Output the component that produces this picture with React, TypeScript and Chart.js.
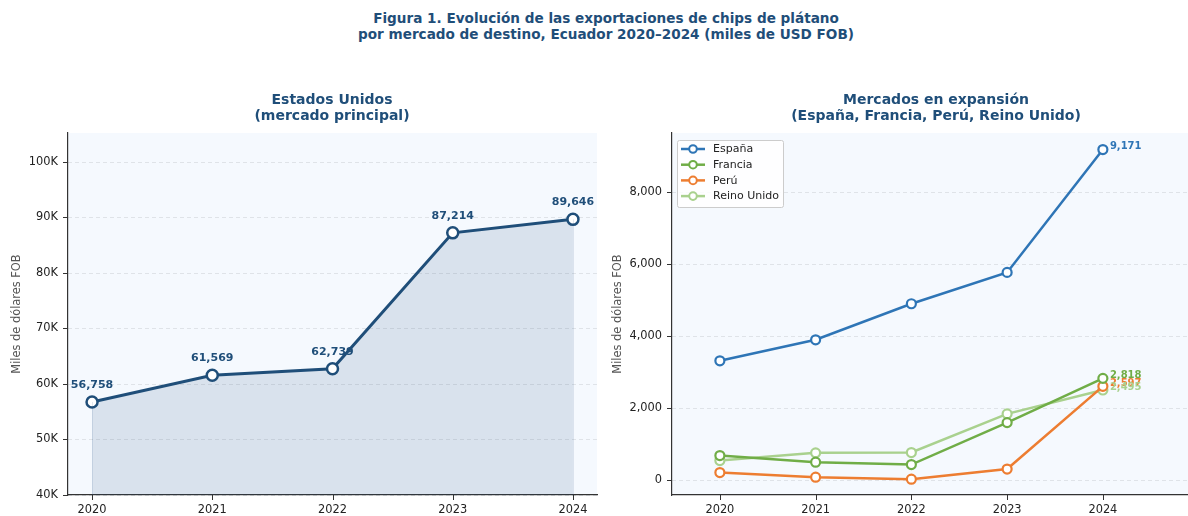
import React, { useEffect, useRef } from 'react';
import { Chart, registerables } from 'chart.js';

Chart.register(...registerables);

const years = [2020, 2021, 2022, 2023, 2024];
const usaValues = [56758, 61569, 62739, 87214, 89646];
const usaTicks = [40000, 50000, 60000, 70000, 80000, 90000, 100000];

const seriesNames = ['España', 'Francia', 'Perú', 'Reino Unido'];
const espanaValues = [3306, 3889, 4889, 5760, 9171];
const franciaValues = [675, 491, 426, 1590, 2818];
const peruValues = [203, 74, 19, 300, 2597];
const reinoUnidoValues = [536, 750, 759, 1833, 2495];
const marketTicks = [0, 2000, 4000, 6000, 8000];

const mainTitle = ['Figura 1. Evolución de las exportaciones de chips de plátano', 'por mercado de destino, Ecuador 2020–2024 (miles de USD FOB)'];
const leftTitle = ['Estados Unidos', '(mercado principal)'];
const rightTitle = ['Mercados en expansión', '(España, Francia, Perú, Reino Unido)'];
const yTitle = 'Miles de dólares FOB';

const NAVY = '#1f4e79';
const seriesColors = ['#2e75b6', '#70ad47', '#ed7d31', '#a9d18e'];
const FONT = "'DejaVu Sans', sans-serif";

const fmt = (v: number) => v.toLocaleString('en-US');

function decorPlugin(opts: { titleLines: string[]; titleCenter: number; yTitleX: number; labels: (chart: any) => void; legend?: boolean }) {
  return {
    id: 'decor',
    beforeDraw(chart: any) {
      const { ctx, chartArea: a } = chart;
      ctx.save();
      ctx.fillStyle = '#f5f9fe';
      ctx.fillRect(a.left, a.top, a.right - a.left, a.bottom - a.top);
      const ys = chart.scales.y;
      ctx.strokeStyle = '#d9dde2';
      ctx.lineWidth = 0.8;
      ctx.setLineDash([4, 3]);
      for (const t of ys.ticks) {
        const py = Math.round(ys.getPixelForValue(t.value)) + 0.5;
        ctx.beginPath();
        ctx.moveTo(a.left, py);
        ctx.lineTo(a.right, py);
        ctx.stroke();
      }
      ctx.restore();
    },
    afterDatasetsDraw(chart: any) {
      opts.labels(chart);
    },
    afterDraw(chart: any) {
      const { ctx, chartArea: a } = chart;
      ctx.save();
      ctx.strokeStyle = '#333';
      ctx.lineWidth = 1;
      const ys = chart.scales.y;
      for (const t of ys.ticks) {
        const py = Math.round(ys.getPixelForValue(t.value)) + 0.5;
        ctx.beginPath();
        ctx.moveTo(a.left - 5, py);
        ctx.lineTo(a.left, py);
        ctx.stroke();
      }
      const xs = chart.scales.x;
      for (const t of xs.ticks) {
        const px = Math.round(xs.getPixelForValue(t.value)) + 0.5;
        ctx.beginPath();
        ctx.moveTo(px, a.bottom);
        ctx.lineTo(px, a.bottom + 5);
        ctx.stroke();
      }
      ctx.fillStyle = NAVY;
      ctx.font = `bold 14px ${FONT}`;
      ctx.textAlign = 'center';
      ctx.textBaseline = 'middle';
      opts.titleLines.forEach((l, i) => ctx.fillText(l, opts.titleCenter, 100 + i * 16));
      ctx.save();
      ctx.translate(opts.yTitleX, (a.top + a.bottom) / 2);
      ctx.rotate(-Math.PI / 2);
      ctx.fillStyle = '#555';
      ctx.font = `11.4px ${FONT}`;
      ctx.fillText(yTitle, 0, 0);
      ctx.restore();
      if (opts.legend) {
        const lx = a.left + 5, ly = a.top + 7, w = 106, h = 67;
        ctx.fillStyle = 'rgba(255,255,255,0.85)';
        ctx.strokeStyle = '#cccccc';
        ctx.lineWidth = 1;
        ctx.beginPath();
        ctx.roundRect(lx + 0.5, ly + 0.5, w, h, 2);
        ctx.fill();
        ctx.stroke();
        seriesNames.forEach((n, i) => {
          const cy = ly + 9 + i * 15.7;
          ctx.strokeStyle = seriesColors[i];
          ctx.lineWidth = 2.5;
          ctx.beginPath();
          ctx.moveTo(lx + 4, cy);
          ctx.lineTo(lx + 28, cy);
          ctx.stroke();
          ctx.beginPath();
          ctx.arc(lx + 16, cy, 3.8, 0, Math.PI * 2);
          ctx.fillStyle = '#fff';
          ctx.fill();
          ctx.lineWidth = 2;
          ctx.stroke();
          ctx.fillStyle = '#222';
          ctx.font = `11px ${FONT}`;
          ctx.textAlign = 'left';
          ctx.textBaseline = 'middle';
          ctx.fillText(n, lx + 36, cy + 0.5);
        });
      }
      ctx.restore();
    },
  };
}

const tickFont = { size: 11.4, family: FONT };

function xAxis(min: number, max: number) {
  return {
    type: 'linear',
    min,
    max,
    grid: { display: false, tickLength: 8 },
    border: { display: true, color: '#333', width: 1.2 },
    ticks: { padding: 0, color: '#222', font: tickFont, callback: (v: any) => String(v), maxRotation: 0 },
    afterBuildTicks: (s: any) => { s.ticks = years.map((v) => ({ value: v })); },
    afterFit: (s: any) => { s.height = 21; s.paddingLeft = 0; s.paddingRight = 0; },
  };
}

function yAxis(min: number, max: number, ticks: number[], width: number, format: (v: number) => string) {
  return {
    type: 'linear',
    min,
    max,
    grid: { display: false, tickLength: 10 },
    border: { display: true, color: '#333', width: 1.2 },
    ticks: { padding: 0, color: '#222', font: tickFont, callback: (v: any) => format(v) },
    afterBuildTicks: (s: any) => { s.ticks = ticks.map((v) => ({ value: v })); },
    afterFit: (s: any) => { s.width = width; s.paddingTop = 0; s.paddingBottom = 0; },
  };
}

export default function App() {
  const leftRef = useRef<HTMLCanvasElement>(null);
  const rightRef = useRef<HTMLCanvasElement>(null);

  useEffect(() => {
    Chart.defaults.font.family = FONT;

    const left = new Chart(leftRef.current!, {
      type: 'line',
      data: {
        datasets: [
          {
            data: years.map((x, i) => ({ x, y: usaValues[i] })),
            borderColor: NAVY,
            borderWidth: 3,
            backgroundColor: 'rgba(31,78,121,0.13)',
            fill: 'start',
            pointRadius: 5.5,
            pointBorderWidth: 2.5,
            pointBackgroundColor: '#ffffff',
            pointBorderColor: NAVY,
            tension: 0,
            clip: false,
          },
        ],
      },
      options: {
        responsive: false,
        animation: false,
        layout: { autoPadding: false, padding: { top: 133, right: 3, left: 0, bottom: 0 } },
        plugins: { legend: { display: false }, tooltip: { enabled: false } },
        scales: {
          x: xAxis(2019.8, 2024.2),
          y: yAxis(40000, 105200, usaTicks, 68, (v) => `${v / 1000}K`),
        },
      },
      plugins: [
        decorPlugin({
          titleLines: leftTitle,
          titleCenter: 332,
          yTitleX: 17,
          labels: (chart: any) => {
            const { ctx, chartArea: a } = chart;
            const meta = chart.getDatasetMeta(0);
            ctx.save();
            ctx.strokeStyle = 'rgba(31,78,121,0.12)';
            ctx.lineWidth = 1;
            [meta.data[0], meta.data[meta.data.length - 1]].forEach((p: any) => {
              ctx.beginPath();
              ctx.moveTo(Math.round(p.x) + 0.5, p.y);
              ctx.lineTo(Math.round(p.x) + 0.5, a.bottom);
              ctx.stroke();
            });
            ctx.fillStyle = NAVY;
            ctx.font = `bold 11px ${FONT}`;
            ctx.textAlign = 'center';
            ctx.textBaseline = 'middle';
            meta.data.forEach((p: any, i: number) => {
              ctx.fillText(fmt(usaValues[i]), p.x, p.y - 17);
            });
            ctx.restore();
          },
        }) as any,
      ],
    } as any);

    const seriesValues = [espanaValues, franciaValues, peruValues, reinoUnidoValues];
    const right = new Chart(rightRef.current!, {
      type: 'line',
      data: {
        datasets: seriesValues.map((vals, si) => ({
          label: seriesNames[si],
          data: years.map((x, i) => ({ x, y: vals[i] })),
          borderColor: seriesColors[si],
          borderWidth: 2.5,
          pointRadius: 4.5,
          pointBorderWidth: 2.2,
          pointBackgroundColor: '#ffffff',
          pointBorderColor: seriesColors[si],
          fill: false,
          tension: 0,
          clip: false,
        })),
      },
      options: {
        responsive: false,
        animation: false,
        layout: { autoPadding: false, padding: { top: 133, right: 0, left: 0, bottom: 0 } },
        plugins: { legend: { display: false }, tooltip: { enabled: false } },
        scales: {
          x: xAxis(2019.5, 2024.889),
          y: yAxis(-420, 9630, marketTicks, 72, fmt),
        },
      },
      plugins: [
        decorPlugin({
          titleLines: rightTitle,
          titleCenter: 336,
          yTitleX: 18,
          legend: true,
          labels: (chart: any) => {
            const { ctx } = chart;
            ctx.save();
            ctx.font = `bold 10px ${FONT}`;
            ctx.textAlign = 'left';
            ctx.textBaseline = 'middle';
            seriesValues.forEach((vals, si) => {
              const meta = chart.getDatasetMeta(si);
              const p = meta.data[meta.data.length - 1];
              ctx.fillStyle = seriesColors[si];
              ctx.fillText(fmt(vals[vals.length - 1]), p.x + 7, p.y - 3);
            });
            ctx.restore();
          },
        }) as any,
      ],
    } as any);

    return () => {
      left.destroy();
      right.destroy();
    };
  }, []);

  return (
    <div style={{ position: 'fixed', left: 0, top: 0, width: 1188, height: 516, overflow: 'hidden', background: '#fff' }}>
      <div
        style={{
          position: 'absolute',
          top: 10,
          left: 606,
          transform: 'translateX(-50%)',
          whiteSpace: 'nowrap',
          textAlign: 'center',
          font: `bold 13.6px ${FONT}`,
          lineHeight: '16px',
          color: NAVY,
        }}
      >
        {mainTitle.map((l) => (
          <div key={l}>{l}</div>
        ))}
      </div>
      <canvas ref={leftRef} width={600} height={516} style={{ position: 'absolute', left: 0, top: 0, width: 600, height: 516 }} />
      <canvas ref={rightRef} width={588} height={516} style={{ position: 'absolute', left: 600, top: 0, width: 588, height: 516 }} />
    </div>
  );
}
